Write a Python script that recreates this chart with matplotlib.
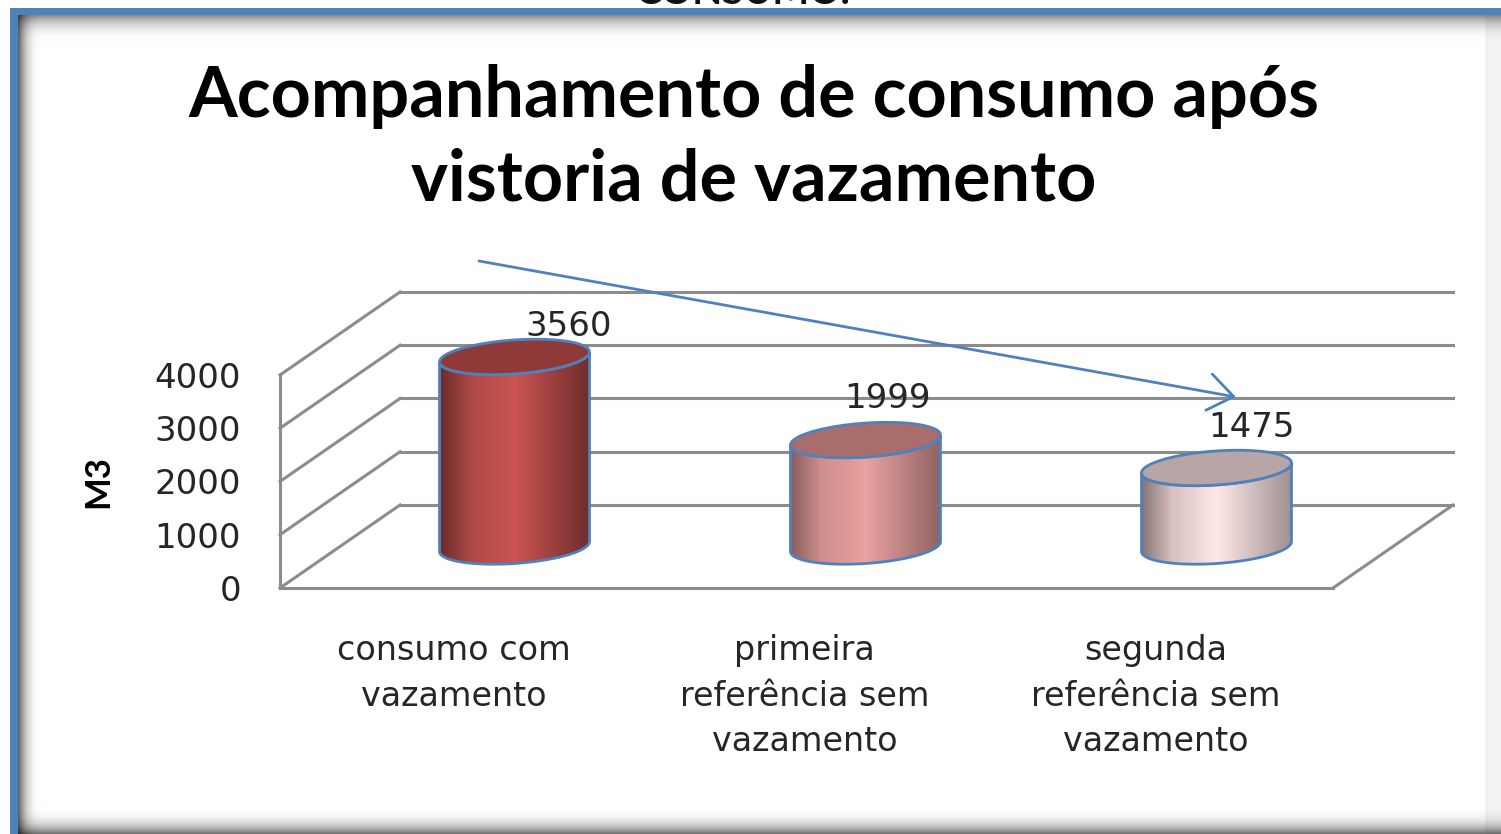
import numpy as np
import matplotlib
matplotlib.use("Agg")
import matplotlib.pyplot as plt
from matplotlib.colors import LinearSegmentedColormap
from matplotlib.patches import PathPatch
from matplotlib.path import Path
from matplotlib.transforms import Affine2D, IdentityTransform

# ---- data ----
categories = ["consumo com\nvazamento", "primeira\nreferência sem\nvazamento", "segunda\nreferência sem\nvazamento"]
values = [3560, 1999, 1475]
y_ticks = [0, 1000, 2000, 3000, 4000]
title = "Acompanhamento de consumo após\nvistoria de vazamento"
y_label = "M3"

# ---- styles ----
W, H = 1501, 834
BLUE = "#4f81bd"
GRID = "#8c8c8c"
TEXT = "#262626"
side_cols = [("#6a2b2b", "#ad4946", "#cb5450", "#6e2d2d"),
             ("#8a5f5f", "#cf8e8c", "#e8a2a0", "#8f6363"),
             ("#857575", "#d8c0c0", "#ffe9e8", "#a08f8f")]
top_cols = ["#8f3a38", "#a96e6c", "#b8a5a5"]
label_off = [(54, 30), (22, 42), (35, 40)]
DX, DY = 120, 83   # depth of the 3-D box, pixels
RX, RY, SKEW = 75, 17, 5

fig = plt.figure(figsize=(W / 100, H / 100), dpi=100, facecolor="white")

# ---- frame background ----
yy, xx = np.mgrid[0:H, 0:W]
shade = np.ones((H, W))
def edge(dist, length, strength):
    return 1 - strength * np.clip(1 - dist / length, 0, 1) ** 3
shade *= edge(xx - 18.0, 26, 0.62)
shade *= edge(yy - 15.0, 32, 0.45)
shade *= edge(H - 1.0 - yy, 30, 0.55)
shade *= np.where(xx > 1484, 0.95, 1.0)
bg = np.dstack([shade] * 3)
bg[(xx < 18) | (yy < 15)] = matplotlib.colors.to_rgb(BLUE)
bg[(xx < 10) | (yy < 8)] = (1, 1, 1)
fig.figimage(bg, origin="upper", zorder=0)

px = Affine2D().scale(1, -1).translate(0, H)  # reference pixels -> display

fig.text(743, 4, "CONSUMO.", transform=px, ha="center", va="baseline",
         fontsize=28, fontweight="bold", family="Lato", color="#111111")
fig.text(754, 138, title, transform=px, ha="center", va="center", fontsize=50.5,
         fontweight="bold", family="Lato", color="black", linespacing=1.35)

# ---- axes: front plane of the 3-D box ----
left, right, bottom, top = 280, 1333, 588, 375
ax = fig.add_axes([left / W, 1 - bottom / H, (right - left) / W, (bottom - top) / H], zorder=1)
ax.patch.set_alpha(0)
ax.set_xlim(-0.5, len(categories) - 0.5)
ax.set_ylim(y_ticks[0], y_ticks[-1])
for s in ("top", "right"):
    ax.spines[s].set_visible(False)
for s in ("left", "bottom"):
    ax.spines[s].set_color(GRID)
    ax.spines[s].set_linewidth(2.2)
ax.set_xticks(range(len(categories)), categories)
ax.set_yticks(y_ticks)
ax.tick_params(axis="x", length=0, pad=33, labelsize=24, labelcolor=TEXT)
ax.tick_params(axis="y", length=0, pad=28, labelsize=24.5, labelcolor=TEXT)
for t in ax.get_xticklabels():
    t.set_linespacing(1.49)
    t.set_transform(t.get_transform() + Affine2D().translate(-2, 0))
ax.set_ylabel(y_label, fontsize=25, fontweight="bold", color="black", labelpad=29, family="Lato")

back = ax.transData + Affine2D().translate(DX, DY)
xlo, xhi = ax.get_xlim()
for v in y_ticks:
    ax.plot([xlo, xhi], [v, v], transform=back, color=GRID, lw=2.2, clip_on=False, zorder=1)
    a = ax.transData.transform((xlo, v))
    ax.plot([a[0], a[0] + DX], [a[1], a[1] + DY], transform=IdentityTransform(),
            color=GRID, lw=2.2, clip_on=False, zorder=1)
a = ax.transData.transform((xhi, y_ticks[0]))
ax.plot([a[0], a[0] + DX], [a[1], a[1] + DY], transform=IdentityTransform(),
        color=GRID, lw=2.2, clip_on=False, zorder=1)
ax.set_xlim(xlo, xhi)

# ---- cylinders, through the axes' scales ----
t_full = np.linspace(0, 2 * np.pi, 120)
t_low = np.linspace(np.pi, 2 * np.pi, 60)
mid = ax.transData + Affine2D().translate(DX / 2, DY / 2)
for i, (val, cols, tc, off) in enumerate(zip(values, side_cols, top_cols, label_off)):
    cx, cb = mid.transform((i, y_ticks[0]))
    _, ct = mid.transform((i, val))
    cx -= 1
    # side
    xs = cx + RX * np.cos(t_low)
    ys = cb + RY * np.sin(t_low) + SKEW * np.cos(t_low)
    xt = cx + RX * np.cos(t_low[::-1])
    yt = ct + RY * np.sin(t_low[::-1]) + SKEW * np.cos(t_low[::-1])
    body = PathPatch(Path(np.r_[np.c_[xs, ys], np.c_[xt, yt], [[xs[0], ys[0]]]]),
                     transform=IdentityTransform(), fc="none", ec=BLUE, lw=2,
                     zorder=3, clip_on=False)
    ax.add_patch(body)
    cmap = LinearSegmentedColormap.from_list(f"c{i}", list(zip((0, 0.2, 0.5, 1), cols)))
    im = ax.imshow(np.linspace(0, 1, 256)[None, :], cmap=cmap, aspect="auto",
                   extent=(cx - RX, cx + RX, cb - RY - 10, ct + RY + 10),
                   transform=IdentityTransform(), zorder=2.5)
    im.set_clip_box(fig.bbox)
    im.set_clip_path(body)
    # top ellipse
    ex = cx + RX * np.cos(t_full)
    ey = ct + RY * np.sin(t_full) + SKEW * np.cos(t_full)
    ax.add_patch(PathPatch(Path(np.c_[ex, ey]), transform=IdentityTransform(), fc=tc,
                           ec=BLUE, lw=2, zorder=4, clip_on=False))
    ax.annotate(str(val), (cx, ct), xycoords=IdentityTransform(), xytext=(off[0] * 0.72, off[1] * 0.72),
                textcoords="offset points", ha="center", va="center", fontsize=24.5,
                color=TEXT, zorder=6, annotation_clip=False)
ax.set_xlim(xlo, xhi)
ax.set_ylim(y_ticks[0], y_ticks[-1])

# ---- trend arrow ----
ax.annotate("", xy=(1236, 397), xytext=(479, 261), xycoords=px, textcoords=px,
            arrowprops=dict(arrowstyle="->,head_length=0.75,head_width=0.55", color=BLUE, lw=2,
                            mutation_scale=24, shrinkA=0, shrinkB=0), zorder=7, annotation_clip=False)

fig.savefig("out.png", dpi=100)
